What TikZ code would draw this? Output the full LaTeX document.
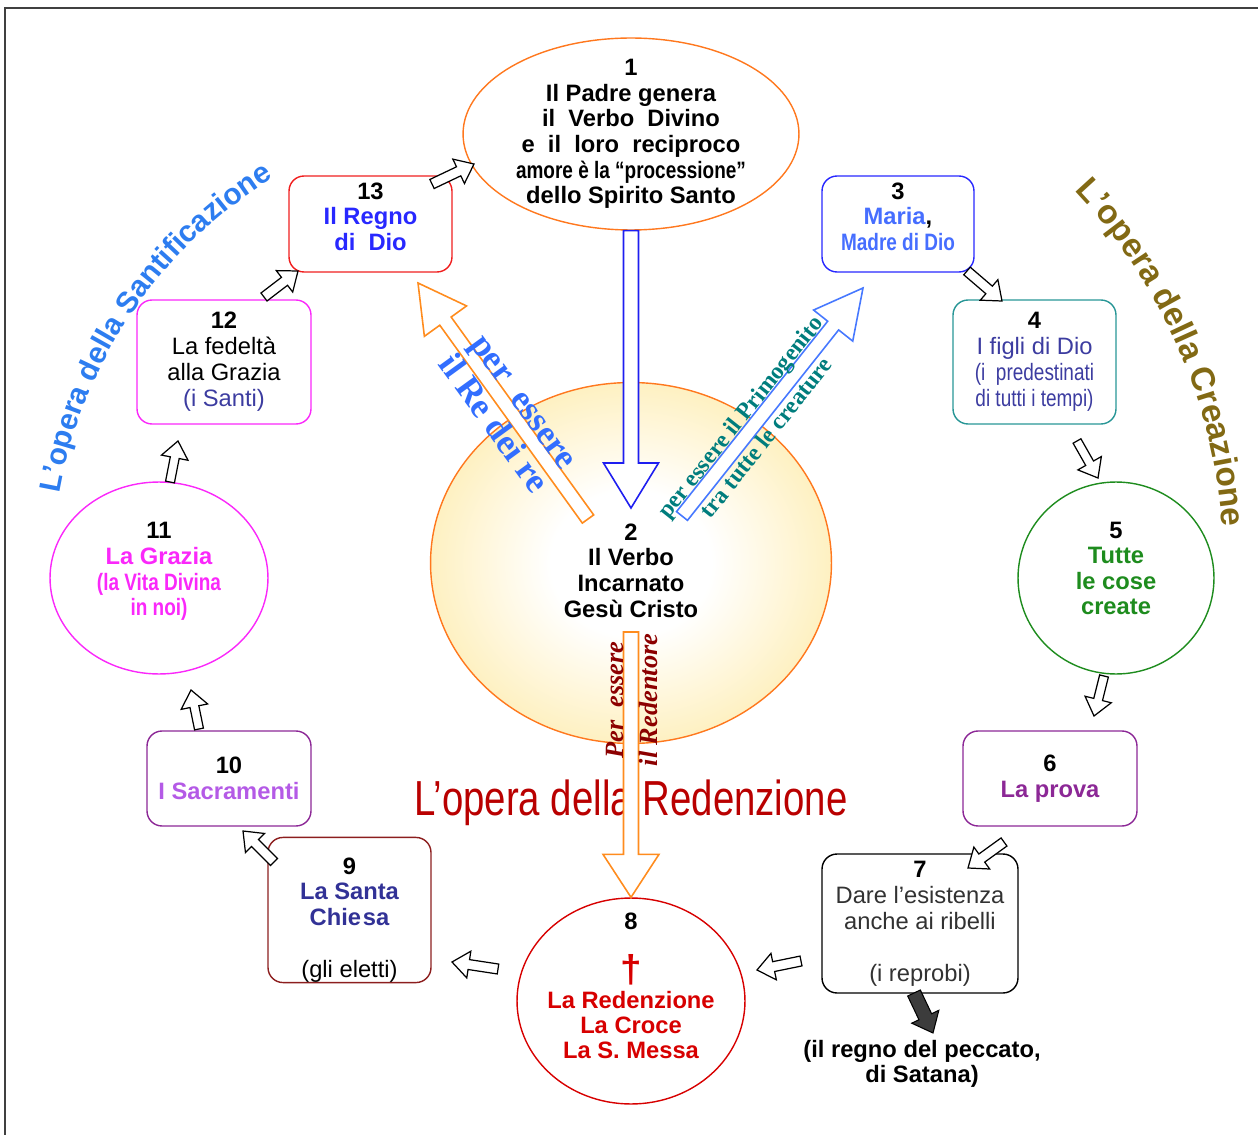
\documentclass[tikz,border=0pt]{standalone}
\usepackage{fontspec}
\setmainfont{Liberation Sans}
\newfontfamily\narrowfont[FakeStretch=0.8]{Liberation Sans}
\newfontfamily\titlefont[FakeStretch=0.78]{Liberation Sans}
\newfontfamily\serifbold{Liberation Serif}
\newfontfamily\arcfont{Liberation Sans}
\usetikzlibrary{shapes.geometric,calc,decorations.text}

\definecolor{sunyellow}{RGB}{252,210,100}
\definecolor{sunmid}{RGB}{254,234,165}
\definecolor{sunedge}{RGB}{255,120,30}
\definecolor{boxred}{RGB}{240,30,30}
\definecolor{boxblue}{RGB}{40,40,255}
\definecolor{mariablue}{RGB}{70,110,255}
\definecolor{boxmagenta}{RGB}{250,40,250}
\definecolor{boxteal}{RGB}{40,150,150}
\definecolor{textnavy}{RGB}{60,60,160}
\definecolor{boxgreen}{RGB}{30,140,30}
\definecolor{boxpurple}{RGB}{140,40,150}
\definecolor{lilac}{RGB}{180,90,230}
\definecolor{darkred}{RGB}{140,30,30}
\definecolor{churchblue}{RGB}{50,50,150}
\definecolor{crossred}{RGB}{215,0,0}
\definecolor{titlered}{RGB}{185,0,0}
\definecolor{arrowblue}{RGB}{30,30,240}
\definecolor{arroworange}{RGB}{255,140,30}
\definecolor{lightblue}{RGB}{70,120,255}
\definecolor{kingblue}{RGB}{50,110,255}
\definecolor{firstteal}{RGB}{0,125,125}
\definecolor{redeemer}{RGB}{140,0,0}
\definecolor{santblue}{RGB}{45,125,240}
\definecolor{creabrown}{RGB}{130,105,20}
\definecolor{sinfill}{RGB}{60,60,60}
\definecolor{greytext}{RGB}{50,50,50}

\pgfdeclareradialshading{sunglow}{\pgfpoint{0bp}{0bp}}{color(0bp)=(white); color(10bp)=(white); color(32bp)=(sunmid); color(50bp)=(sunyellow); color(70bp)=(sunyellow)}

\tikzset{
  box/.style={draw, rounded corners=0.3cm, line width=0.8pt, align=center, inner sep=0pt,
    font=\bfseries\fontsize{13.5}{14.6}\selectfont},
  oval/.style={ellipse, draw, line width=0.8pt, align=center, inner sep=0pt,
    font=\bfseries\fontsize{13.5}{14.6}\selectfont},
  plain/.style={font=\mdseries\fontsize{13.5}{14.8}\selectfont},
  smallarrow/.style={draw=black, fill=white, line width=0.7pt},
  bigarrow/.style={fill=white, line width=0.9pt},
}

% block arrow from #2 to #3: shaft half width #4, head half width #5, head length #6
\newcommand{\fatarrow}[6][]{%
  \coordinate (fa-n) at ($(#3)!#6!(#2)$);
  \draw[#1] ($(#2)!#4!90:(#3)$) -- ($(fa-n)!#4!-90:(#2)$) -- ($(fa-n)!#5!-90:(#2)$) -- (#3)
    -- ($(fa-n)!#5!90:(#2)$) -- ($(fa-n)!#4!90:(#2)$) -- ($(#2)!#4!-90:(#3)$) -- cycle;
}

\begin{document}
\begin{tikzpicture}[x=0.02cm, y=-0.02cm]
  \useasboundingbox (0,0) rectangle (1258,1135);

  % Draw frame
  \draw[line width=1.5pt, black!75] (5,1135) -- (5,8) -- (1258,8);

  % Draw the sun in the middle
  \node[oval, draw=sunedge, shade, shading=sunglow, minimum width=8.02cm, minimum height=7.22cm] (n2) at (631,563)
    {\rule{0pt}{18pt}2\\Il Verbo\\Incarnato\\Gesù Cristo};

  % Draw top ellipse
  \node[oval, draw=sunedge, inner ysep=-0.3cm, minimum width=6.72cm, minimum height=3.84cm] (n1) at (631,134)
    {1\\Il Padre genera\\il~ Verbo~ Divino\\e~ il~ loro~ reciproco\\{\narrowfont amore è la “processione”}\\dello Spirito Santo};

  % Draw the boxes and circles of the cycle
  \node[box, draw=boxred, minimum width=3.26cm, minimum height=1.92cm] (n13) at (370.5,224)
    {13\\{\color{boxblue}Il Regno}\\{\color{boxblue}di~ Dio}\rule[-8.5pt]{0pt}{1pt}};
  \node[box, draw=boxblue, minimum width=3.04cm, minimum height=1.92cm] (n3) at (898,224)
    {3\\{\color{mariablue}Maria},\\{\color{mariablue}\narrowfont Madre di Dio}\rule[-8.5pt]{0pt}{1pt}};
  \node[box, plain, draw=boxmagenta, minimum width=3.48cm, minimum height=2.48cm] (n12) at (224,362)
    {\textbf{12}\\La fedeltà\\alla Grazia\\{\color{textnavy}(i Santi)}};
  \node[box, plain, draw=boxteal, text=textnavy, minimum width=3.26cm, minimum height=2.48cm] (n4) at (1034.5,362)
    {{\color{black}\textbf{4}}\\I figli di Dio\\{\narrowfont (i~ predestinati}\\{\narrowfont di tutti i tempi)}};
  \node[oval, draw=boxmagenta, minimum width=4.36cm, minimum height=3.84cm] (n11) at (159,578)
    {11\\{\color{boxmagenta}La Grazia}\\{\color{boxmagenta}\narrowfont (la Vita Divina}\\{\color{boxmagenta}\narrowfont in noi)}\rule[-10pt]{0pt}{1pt}};
  \node[oval, draw=boxgreen, minimum width=3.92cm, minimum height=3.84cm] (n5) at (1116,578)
    {5\\{\color{boxgreen}Tutte}\\{\color{boxgreen}le cose}\\{\color{boxgreen}create}\rule[-11pt]{0pt}{1pt}};
  \node[box, draw=boxpurple, minimum width=3.28cm, minimum height=1.9cm] (n10) at (229,778.5)
    {10\\{\color{lilac}I Sacramenti}};
  \node[box, draw=boxpurple, minimum width=3.48cm, minimum height=1.9cm] (n6) at (1050,778.5)
    {6\\{\color{boxpurple}La prova}};
  \node[box, draw=darkred, minimum width=3.26cm, minimum height=2.8cm] (n9) at (349.5,910)
    {\rule{0pt}{21pt}9\\{\color{churchblue}La Santa}\\{\color{churchblue}Chie\hspace{1pt}sa}\\[15pt]{\mdseries (gli eletti)}};
  \node[box, plain, draw=black, text=greytext, minimum width=3.92cm, minimum height=2.78cm] (n7) at (920,923.5)
    {{\color{black}\textbf{7}}\\Dare l’esistenza\\anche ai ribelli\\[15pt](i reprobi)};
  \node[oval, draw=crossred, minimum width=4.56cm, minimum height=4.12cm] (n8) at (631,1001) {};
  \node[align=center, font=\bfseries\fontsize{13.5}{14.2}\selectfont] (n8text) at (631,986)
    {8\\[13pt]{\color{crossred}\fontsize{22}{22}\selectfont †}\\[1pt]{\color{crossred}La Redenzione}\\{\color{crossred}La Croce}\\{\color{crossred}La S. Messa}};

  % Kingdom of sin
  \node[align=center, font=\bfseries\fontsize{13.5}{14.6}\selectfont] (sin) at (922,1064)
    {(il regno del peccato,\\di Satana)};

  % Title of the redemption
  \node[text=titlered, font=\titlefont\fontsize{28}{30}\selectfont] (redtitle) at (631,803) {L’opera della Redenzione};

  % Ends of the big arrows
  \coordinate (vtip) at (631,508);
  \coordinate (otail) at (631,632);
  \coordinate (ktail) at (588,519);
  \coordinate (ktip) at (418,283);
  \coordinate (ptail) at (682,516);
  \coordinate (ptip) at (863,288);

  % Draw big arrows
  \fatarrow[bigarrow, draw=arrowblue]{n1.south}{vtip}{0.15cm}{0.55cm}{0.9cm}
  \fatarrow[bigarrow, draw=arroworange]{otail}{n8.north}{0.15cm}{0.56cm}{0.86cm}
  \fatarrow[bigarrow, draw=arroworange]{ktail}{ktip}{0.14cm}{0.52cm}{0.94cm}
  \fatarrow[bigarrow, draw=lightblue]{ptail}{ptip}{0.14cm}{0.5cm}{0.96cm}

  % Texts on the big arrows
  \node[rotate=-54, align=center, text=kingblue, font=\serifbold\bfseries\fontsize{20}{21.5}\selectfont] (kingtext) at (507,414)
    {per~ essere\\il Re dei re};
  \node[rotate=51.6, align=center, text=firstteal, font=\serifbold\bfseries\fontsize{13.5}{18.7}\selectfont] (firsttext) at (753,427)
    {per essere il Primogenito\\tra tutte le creature};
  \node[rotate=90, align=center, text=redeemer, font=\serifbold\bfseries\itshape\fontsize{15}{19}\selectfont] (redtext) at (632,700)
    {Per~ essere\\il Redentore};

  % Ends of the small arrows
  \coordinate (t13) at (432,184);  \coordinate (h13) at (474,164);
  \coordinate (t12) at (264,297);  \coordinate (h12) at (298,271);
  \coordinate (t11) at (170,482);  \coordinate (h11) at (178,441);
  \coordinate (t10) at (199,729);  \coordinate (h10) at (191,690);
  \coordinate (t9) at (274,862);   \coordinate (h9) at (243,831);
  \coordinate (t8) at (498,969);   \coordinate (h8) at (452,962);
  \coordinate (t7) at (801,961);   \coordinate (h7) at (757,970);
  \coordinate (t6) at (1004,842);  \coordinate (h6) at (968,868);
  \coordinate (t5) at (1104,676);  \coordinate (h5) at (1094,716);
  \coordinate (t4) at (1077,441);  \coordinate (h4) at (1098,478);
  \coordinate (t3) at (967,271);   \coordinate (h3) at (1002,301);
  \coordinate (tsin) at (914,993); \coordinate (hsin) at (933,1033);

  % Draw small arrows round the cycle
  \fatarrow[smallarrow]{t13}{h13}{0.1cm}{0.27cm}{0.34cm}
  \fatarrow[smallarrow]{t12}{h12}{0.1cm}{0.27cm}{0.34cm}
  \fatarrow[smallarrow]{t11}{h11}{0.09cm}{0.27cm}{0.34cm}
  \fatarrow[smallarrow]{t10}{h10}{0.09cm}{0.27cm}{0.34cm}
  \fatarrow[smallarrow]{t9}{h9}{0.1cm}{0.27cm}{0.34cm}
  \fatarrow[smallarrow]{t8}{h8}{0.1cm}{0.27cm}{0.34cm}
  \fatarrow[smallarrow]{t7}{h7}{0.1cm}{0.27cm}{0.34cm}
  \fatarrow[smallarrow]{t6}{h6}{0.1cm}{0.27cm}{0.34cm}
  \fatarrow[smallarrow]{t5}{h5}{0.09cm}{0.27cm}{0.34cm}
  \fatarrow[smallarrow]{t4}{h4}{0.09cm}{0.27cm}{0.34cm}
  \fatarrow[smallarrow]{t3}{h3}{0.1cm}{0.27cm}{0.34cm}
  \fatarrow[draw=black, fill=sinfill, line width=0.6pt]{tsin}{hsin}{0.14cm}{0.3cm}{0.36cm}

  % Curved titles
  \path[decorate, decoration={text along path, text={|\arcfont\bfseries\fontsize{17}{19}\selectfont\color{santblue}|L’opera della Santificazione}}]
    ($(519,575)+(170:9.34cm)$) arc[start angle=170, end angle=105, radius=9.34cm];
  \path[decorate, decoration={text along path, text={|\arcfont\bfseries\fontsize{19}{21}\selectfont\color{creabrown}|L’opera della Creazione}}]
    ($(679,566)+(43.5:10.9cm)$) arc[start angle=43.5, end angle=-15, radius=10.9cm];
\end{tikzpicture}
\end{document}
